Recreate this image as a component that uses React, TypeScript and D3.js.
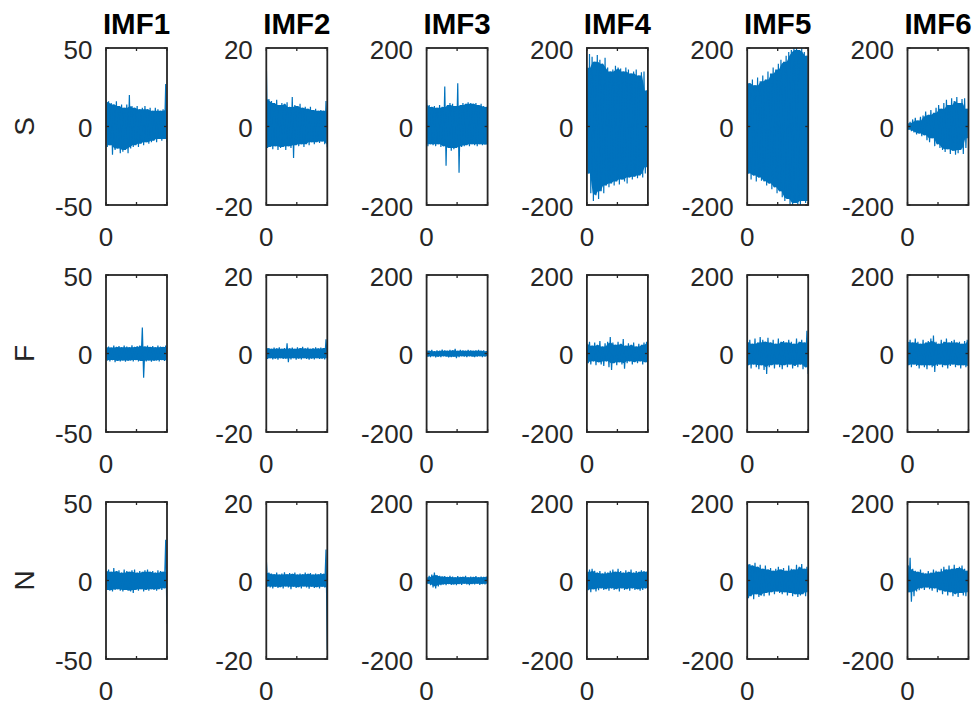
import React from "react";
import * as d3 from "d3";

// row labels, column titles, y limits per column
const rowLabels = ["S", "F", "N"];
const imfTitles = ["IMF1", "IMF2", "IMF3", "IMF4", "IMF5", "IMF6"];
const yLimits = [50, 20, 200, 200, 200, 200];

// upper / lower swing of each signal (24 slices per panel)
const S_IMF1_HI = [17, 16, 15, 14, 16, 13, 14, 12, 14, 20, 13, 12, 13, 11, 12, 13, 11, 12, 10, 12, 11, 10, 11, 27];
const S_IMF1_LO = [-13, -12, -18, -15, -14, -17, -16, -15, -17, -14, -13, -12, -13, -11, -12, -10, -11, -10, -9, -10, -8, -9, -8, -10];
const S_IMF2_HI = [16.5, 7, 6.5, 6, 6.8, 5.5, 6, 5.8, 6.2, 5, 7.5, 5.5, 5.2, 5.8, 4.8, 5, 4.5, 5, 4.2, 4.5, 4, 4.2, 4, 6.5];
const S_IMF2_LO = [-5.5, -5.2, -5.8, -5, -6, -5.5, -5.2, -6, -5, -5.5, -8, -4.8, -5, -4.5, -5.2, -4.5, -4.8, -4, -4.5, -4, -4.2, -3.8, -4.5, -5.3];
const S_IMF3_HI = [68, 55, 50, 52, 48, 55, 50, 102, 55, 60, 58, 52, 110, 55, 60, 58, 62, 60, 58, 60, 55, 58, 52, 50];
const S_IMF3_LO = [-50, -45, -48, -50, -45, -52, -50, -100, -55, -62, -58, -55, -118, -52, -50, -48, -50, -45, -48, -50, -45, -48, -46, -50];
const S_IMF4_HI = [150, 185, 178, 165, 182, 170, 160, 175, 150, 140, 145, 155, 150, 148, 140, 150, 145, 135, 140, 145, 130, 138, 140, 92];
const S_IMF4_LO = [-120, -170, -190, -175, -185, -165, -170, -150, -155, -145, -150, -140, -148, -135, -140, -145, -130, -135, -128, -132, -125, -130, -120, -104];
const S_IMF5_HI = [130, 110, 120, 105, 125, 115, 130, 120, 140, 135, 150, 145, 160, 170, 165, 180, 190, 195, 200, 200, 195, 200, 190, 180];
const S_IMF5_LO = [-120, -135, -125, -140, -130, -138, -140, -150, -145, -160, -155, -170, -165, -180, -190, -185, -200, -200, -195, -200, -200, -190, -195, -190];
const S_IMF6_HI = [8, 12, 18, 22, 15, 25, 28, 38, 30, 42, 35, 48, 55, 45, 60, 68, 55, 72, 65, 75, 60, 70, 72, 45];
const S_IMF6_LO = [-8, -12, -15, -20, -18, -25, -22, -35, -40, -30, -50, -45, -55, -60, -65, -58, -70, -62, -72, -68, -60, -70, -55, -30];

const F_IMF1_HI = [4, 4.5, 3.8, 5, 4.2, 4.8, 4, 5, 4.5, 4, 5.2, 4.2, 4.8, 5, 16.5, 4.5, 5, 4.2, 4.8, 4, 5, 4.5, 4.2, 5];
const F_IMF1_LO = [-4.5, -5, -4.2, -5.5, -4.8, -5, -4.5, -5.2, -4.8, -4.5, -5, -4.2, -5, -4.8, -15.5, -5, -4.5, -5.2, -4.8, -4.5, -5, -4.2, -4.8, -4.5];
const F_IMF2_HI = [1.6, 1.4, 1.2, 1.5, 1.3, 1.6, 1.2, 1.4, 2.6, 1.3, 1.5, 1.2, 1.6, 1.4, 1.7, 1.3, 1.5, 1.2, 1.4, 1.6, 1.3, 1.5, 1.4, 3.6];
const F_IMF2_LO = [-1.4, -1.2, -1.5, -1.3, -1.6, -1.2, -1.4, -1.3, -2.2, -1.5, -1.2, -1.6, -1.3, -1.5, -1.2, -1.4, -1.6, -1.3, -1.5, -1.2, -1.4, -1.3, -1.5, -1.2];
const F_IMF3_HI = [8, 7, 9, 6, 8, 7, 10, 8, 7, 9, 8, 12, 7, 9, 8, 7, 9, 8, 7, 8, 9, 7, 8, 6];
const F_IMF3_LO = [-8, -9, -7, -10, -8, -9, -7, -8, -10, -9, -8, -12, -9, -7, -8, -9, -7, -8, -9, -8, -7, -9, -8, -7];
const F_IMF4_HI = [25, 30, 20, 28, 22, 32, 18, 26, 30, 42, 28, 22, 30, 25, 37, 20, 26, 22, 28, 18, 25, 22, 28, 30];
const F_IMF4_LO = [-25, -28, -20, -30, -22, -28, -32, -20, -35, -42, -25, -30, -22, -28, -39, -25, -20, -28, -22, -25, -20, -28, -22, -25];
const F_IMF5_HI = [30, 35, 25, 38, 28, 42, 35, 30, 40, 28, 35, 25, 38, 30, 32, 28, 35, 30, 25, 38, 30, 35, 28, 58];
const F_IMF5_LO = [-30, -38, -28, -35, -40, -30, -42, -52, -35, -30, -38, -28, -35, -40, -30, -35, -28, -38, -32, -35, -28, -40, -35, -52];
const F_IMF6_HI = [30, 35, 28, 38, 30, 25, 35, 28, 32, 38, 46, 30, 25, 35, 30, 38, 28, 32, 35, 28, 30, 25, 32, 35];
const F_IMF6_LO = [-30, -35, -28, -32, -38, -30, -35, -40, -30, -35, -47, -32, -28, -35, -30, -38, -32, -28, -35, -30, -38, -30, -35, -32];

const N_IMF1_HI = [6, 7, 5.5, 8, 6, 6.5, 5, 7, 6, 5.5, 6.5, 7, 5, 6, 5.5, 6.5, 7, 5.5, 6, 5, 6.5, 6, 5.5, 26];
const N_IMF1_LO = [-6, -6.5, -7, -6, -5.5, -6.5, -7, -6, -6.5, -7, -8, -6, -6.5, -5.5, -7, -6, -6.5, -5.5, -6, -6.5, -5.5, -6, -5, -27.5];
const N_IMF2_HI = [5.5, 2, 1.8, 1.6, 2, 1.5, 1.8, 2.1, 1.6, 1.9, 1.7, 2, 1.5, 1.8, 1.6, 2, 1.7, 1.9, 1.5, 1.8, 1.6, 1.9, 1.7, 7.9];
const N_IMF2_LO = [-1.5, -1.8, -2, -1.6, -1.9, -1.7, -2, -1.5, -1.8, -2.2, -1.6, -1.9, -1.7, -2, -1.5, -1.8, -2.1, -1.6, -1.9, -1.7, -2, -1.6, -1.8, -17.7];
const N_IMF3_HI = [8, 12, 15, 20, 14, 12, 10, 11, 9, 12, 10, 8, 11, 9, 10, 12, 8, 10, 9, 11, 8, 10, 9, 10];
const N_IMF3_LO = [-8, -12, -18, -20, -15, -12, -10, -12, -9, -11, -10, -12, -9, -11, -8, -10, -12, -9, -10, -8, -11, -9, -10, -8];
const N_IMF4_HI = [22, 28, 30, 25, 20, 24, 18, 22, 20, 25, 28, 22, 30, 24, 20, 26, 22, 28, 20, 24, 22, 26, 24, 22];
const N_IMF4_LO = [-25, -30, -22, -28, -25, -20, -24, -22, -26, -20, -24, -22, -28, -20, -24, -22, -26, -20, -24, -22, -26, -24, -20, -22];
const N_IMF5_HI = [45, 42, 38, 45, 35, 40, 30, 38, 28, 32, 25, 30, 35, 28, 32, 25, 38, 30, 28, 40, 35, 42, 30, 35];
const N_IMF5_LO = [-45, -40, -48, -35, -42, -38, -40, -32, -38, -30, -35, -28, -32, -35, -30, -38, -32, -40, -35, -42, -38, -35, -40, -30];
const N_IMF6_HI = [40, 58, 30, 25, 22, 28, 20, 18, 24, 20, 28, 25, 22, 30, 35, 28, 38, 30, 40, 32, 35, 38, 30, 25];
const N_IMF6_LO = [-30, -54, -40, -28, -25, -20, -24, -18, -22, -26, -20, -30, -25, -35, -28, -38, -30, -40, -35, -42, -32, -38, -40, -30];

const signals = [
  [[S_IMF1_HI, S_IMF1_LO], [S_IMF2_HI, S_IMF2_LO], [S_IMF3_HI, S_IMF3_LO], [S_IMF4_HI, S_IMF4_LO], [S_IMF5_HI, S_IMF5_LO], [S_IMF6_HI, S_IMF6_LO]],
  [[F_IMF1_HI, F_IMF1_LO], [F_IMF2_HI, F_IMF2_LO], [F_IMF3_HI, F_IMF3_LO], [F_IMF4_HI, F_IMF4_LO], [F_IMF5_HI, F_IMF5_LO], [F_IMF6_HI, F_IMF6_LO]],
  [[N_IMF1_HI, N_IMF1_LO], [N_IMF2_HI, N_IMF2_LO], [N_IMF3_HI, N_IMF3_LO], [N_IMF4_HI, N_IMF4_LO], [N_IMF5_HI, N_IMF5_LO], [N_IMF6_HI, N_IMF6_LO]],
];

const WIDTH = 976;
const HEIGHT = 708;
const axW = 61;
const axH = 157;
const colLeft = d3.scaleLinear().domain([0, 5]).range([106, 907.5]);
const rowTop = d3.scaleLinear().domain([0, 2]).range([48, 502]);

const FONT = "'Liberation Sans', Arial, Helvetica, sans-serif";
const INK = "#262626";
const LINE_BLUE = "#0072BD";

function Panel({ row, col }: { row: number; col: number }) {
  const [hi, lo] = signals[row][col];
  const lim = yLimits[col];
  const left = colLeft(col);
  const top = rowTop(row);
  const n = hi.length;

  const x = d3.scaleLinear().domain([0, 2 * n - 1]).range([left, left + axW]);
  const y = d3.scaleLinear().domain([-lim, lim]).range([top + axH, top]);

  // zig-zag between the upper and lower swing of each slice
  const pts: [number, number][] = [];
  hi.forEach((h, i) => {
    pts.push([2 * i, h]);
    pts.push([2 * i + 1, lo[i]]);
  });
  const path = d3.line<[number, number]>().x((d) => x(d[0])).y((d) => y(d[1]))(pts) || "";

  // dense body of the trace: the band between the smaller swings of neighbouring slices
  const core = hi.map((h, i) => ({
    i,
    top: Math.min(h, hi[Math.max(0, i - 1)], hi[Math.min(n - 1, i + 1)]),
    bot: Math.max(lo[i], lo[Math.max(0, i - 1)], lo[Math.min(n - 1, i + 1)]),
  }));
  const band =
    d3
      .area<{ i: number; top: number; bot: number }>()
      .x((d) => x(2 * d.i + 0.5))
      .y0((d) => y(d.bot))
      .y1((d) => y(d.top))(core) || "";

  const yTicks = [-lim, 0, lim];
  const xTickPos = [left, left + axW / 2, left + axW];
  const clipId = `clip-${row}-${col}`;
  const tl = 3;

  return (
    <g>
      <clipPath id={clipId}>
        <rect x={left} y={top} width={axW} height={axH} />
      </clipPath>
      <g clipPath={`url(#${clipId})`}>
        <path d={band} fill={LINE_BLUE} stroke="none" />
        <path d={path} fill="none" stroke={LINE_BLUE} strokeWidth={1.2} />
      </g>
      <rect x={left} y={top} width={axW} height={axH} fill="none" stroke={INK} strokeWidth={1.8} />
      {yTicks.map((t) => (
        <g key={t}>
          <line x1={left} x2={left + tl} y1={y(t)} y2={y(t)} stroke={INK} strokeWidth={1.3} />
          <line x1={left + axW - tl} x2={left + axW} y1={y(t)} y2={y(t)} stroke={INK} strokeWidth={1.3} />
          <text x={left - 13.5} y={y(t) + 1.5} textAnchor="end" dominantBaseline="central" fontSize={26} fill={INK} fontFamily={FONT}>
            {t}
          </text>
        </g>
      ))}
      {xTickPos.map((px, i) => (
        <g key={i}>
          <line x1={px} x2={px} y1={top + axH} y2={top + axH - tl} stroke={INK} strokeWidth={1.3} />
          <line x1={px} x2={px} y1={top} y2={top + tl} stroke={INK} strokeWidth={1.3} />
        </g>
      ))}
      <text x={left} y={top + axH + 41} textAnchor="middle" fontSize={26} fill={INK} fontFamily={FONT}>
        0
      </text>
      {row === 0 && (
        <text x={left + axW / 2} y={top - 14} textAnchor="middle" fontSize={29.5} fontWeight="bold" fill="#000" fontFamily={FONT}>
          {imfTitles[col]}
        </text>
      )}
      {col === 0 && (
        <text
          transform={`translate(24,${top + axH / 2}) rotate(-90)`}
          textAnchor="middle"
          dominantBaseline="central"
          fontSize={28}
          fill={INK}
          fontFamily={FONT}
        >
          {rowLabels[row]}
        </text>
      )}
    </g>
  );
}

export default function App() {
  return (
    <svg width={WIDTH} height={HEIGHT} style={{ position: "absolute", left: 0, top: 0, background: "#fff" }}>
      <rect width={WIDTH} height={HEIGHT} fill="#fff" />
      {rowLabels.map((_, r) => imfTitles.map((__, c) => <Panel key={`${r}-${c}`} row={r} col={c} />))}
    </svg>
  );
}
